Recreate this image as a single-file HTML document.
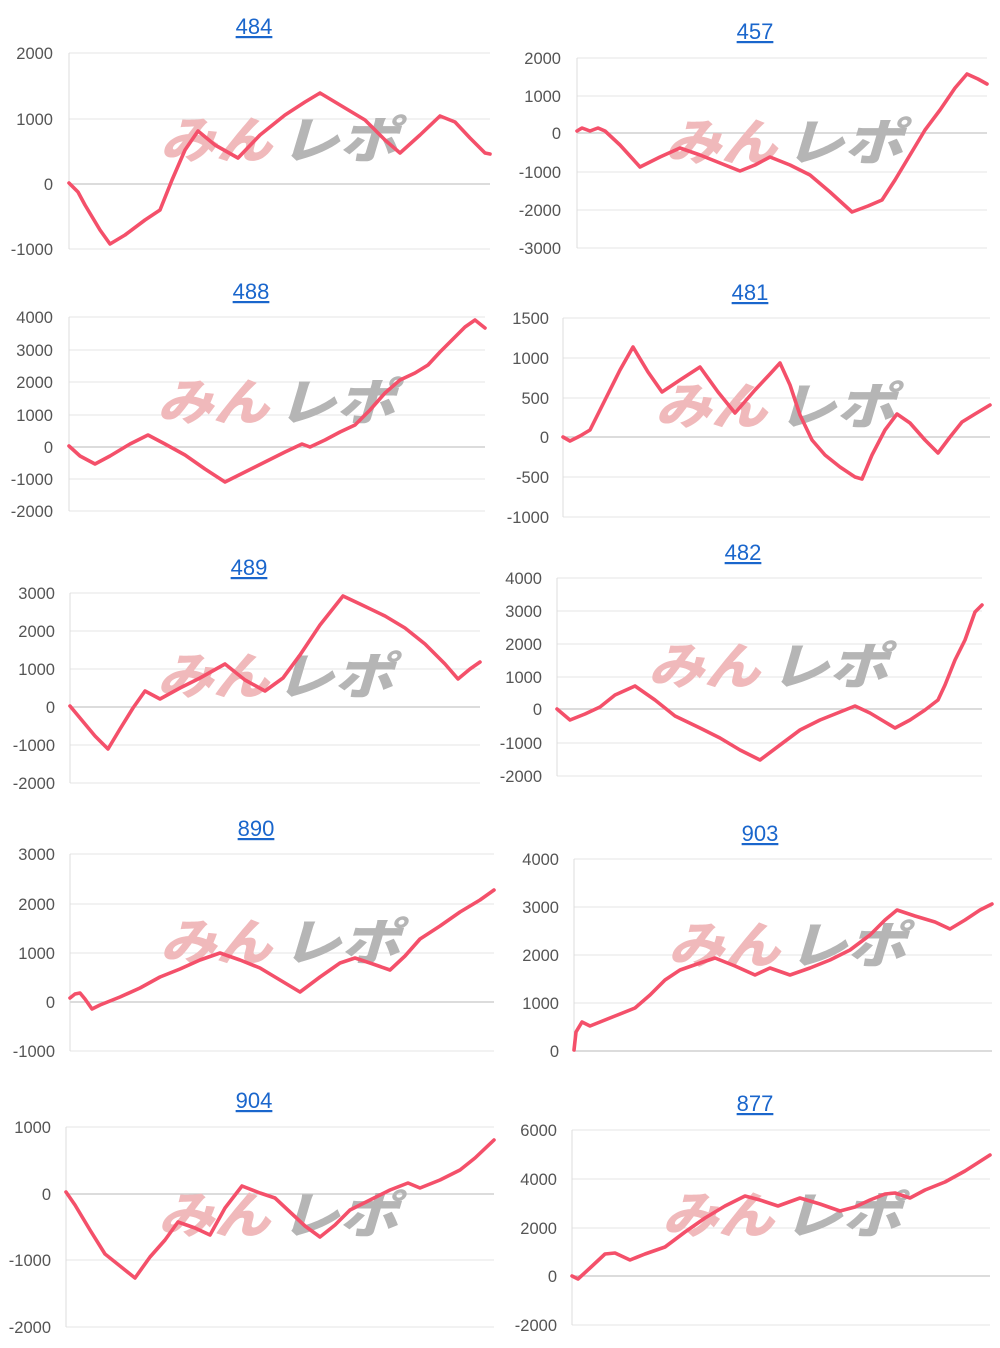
<!DOCTYPE html>
<html><head><meta charset="utf-8"><style>
html,body{margin:0;padding:0;background:#fff;width:1000px;height:1348px;overflow:hidden}
svg{display:block}
.t{font-family:"Liberation Sans",sans-serif;font-size:22px;fill:#1a66cc;text-decoration:underline;text-anchor:middle}
.l{font-family:"Liberation Sans",sans-serif;font-size:16.5px;fill:#555;text-anchor:end}
.g{stroke:#e4e4e4;stroke-width:1}
.z{stroke:#c8c8c8;stroke-width:1.3}
.a{stroke:#dcdcdc;stroke-width:1}
.p{fill:none;stroke:#f4506a;stroke-width:3.6;stroke-linejoin:round;stroke-linecap:round}
.w1{font-family:"Liberation Sans","Noto Sans CJK JP",sans-serif;font-weight:900;font-style:italic;font-size:50px;fill:#f0b9bb}
.w2{font-family:"Liberation Sans","Noto Sans CJK JP",sans-serif;font-weight:900;font-style:italic;font-size:50px;fill:#b5b5b5}
</style></head><body>
<svg width="1000" height="1348" viewBox="0 0 1000 1348" xmlns="http://www.w3.org/2000/svg">

<!-- 484 -->
<text class="t" x="254" y="34">484</text>
<line class="g" x1="69" x2="490" y1="53" y2="53"/><line class="g" x1="69" x2="490" y1="119" y2="119"/><line class="z" x1="69" x2="490" y1="184" y2="184"/><line class="g" x1="69" x2="490" y1="249" y2="249"/>
<line class="a" x1="69" x2="69" y1="53" y2="249"/>
<text class="l" x="53" y="59">2000</text><text class="l" x="53" y="125">1000</text><text class="l" x="53" y="190">0</text><text class="l" x="53" y="255">-1000</text>
<text class="w1" x="160" y="158" textLength="112" lengthAdjust="spacingAndGlyphs">みん</text><text class="w2" x="280" y="158" textLength="118" lengthAdjust="spacingAndGlyphs">レポ</text>
<polyline class="p" points="69,183 78,192 85,205 100,230 110,244 125,235 145,220 160,210 172,180 185,150 198,131 215,145 238,158 260,135 285,115 305,102 320,93 340,105 365,120 385,140 400,153 420,135 440,116 455,122 470,138 485,153 490,154"/>

<!-- 457 -->
<text class="t" x="755" y="39">457</text>
<line class="g" x1="577" x2="987" y1="58" y2="58"/><line class="g" x1="577" x2="987" y1="96" y2="96"/><line class="z" x1="577" x2="987" y1="133" y2="133"/><line class="g" x1="577" x2="987" y1="172" y2="172"/><line class="g" x1="577" x2="987" y1="210" y2="210"/><line class="g" x1="577" x2="987" y1="248" y2="248"/>
<line class="a" x1="577" x2="577" y1="58" y2="248"/>
<text class="l" x="561" y="64">2000</text><text class="l" x="561" y="102">1000</text><text class="l" x="561" y="139">0</text><text class="l" x="561" y="178">-1000</text><text class="l" x="561" y="216">-2000</text><text class="l" x="561" y="254">-3000</text>
<text class="w1" x="665" y="160" textLength="112" lengthAdjust="spacingAndGlyphs">みん</text><text class="w2" x="785" y="160" textLength="118" lengthAdjust="spacingAndGlyphs">レポ</text>
<polyline class="p" points="577,131 582,128 590,131 598,128 605,131 620,145 640,167 660,157 680,148 700,155 720,163 740,171 755,165 770,157 790,165 810,175 830,192 852,212 868,206 882,200 895,180 910,155 925,130 940,110 955,88 967,74 978,79 987,84"/>

<!-- 488 -->
<text class="t" x="251" y="299">488</text>
<line class="g" x1="69" x2="485" y1="317" y2="317"/><line class="g" x1="69" x2="485" y1="350" y2="350"/><line class="g" x1="69" x2="485" y1="382" y2="382"/><line class="g" x1="69" x2="485" y1="415" y2="415"/><line class="z" x1="69" x2="485" y1="447" y2="447"/><line class="g" x1="69" x2="485" y1="479" y2="479"/><line class="g" x1="69" x2="485" y1="511" y2="511"/>
<line class="a" x1="69" x2="69" y1="317" y2="511"/>
<text class="l" x="53" y="323">4000</text><text class="l" x="53" y="356">3000</text><text class="l" x="53" y="388">2000</text><text class="l" x="53" y="421">1000</text><text class="l" x="53" y="453">0</text><text class="l" x="53" y="485">-1000</text><text class="l" x="53" y="517">-2000</text>
<text class="w1" x="157" y="420" textLength="112" lengthAdjust="spacingAndGlyphs">みん</text><text class="w2" x="277" y="420" textLength="118" lengthAdjust="spacingAndGlyphs">レポ</text>
<polyline class="p" points="69,446 80,456 95,464 110,456 130,444 148,435 165,444 185,455 205,469 225,482 245,472 265,462 285,452 302,444 310,447 325,440 340,432 355,425 370,410 385,393 400,380 415,373 428,365 440,352 455,337 465,327 475,320 485,328"/>

<!-- 481 -->
<text class="t" x="750" y="300">481</text>
<line class="g" x1="563" x2="990" y1="318" y2="318"/><line class="g" x1="563" x2="990" y1="358" y2="358"/><line class="g" x1="563" x2="990" y1="398" y2="398"/><line class="z" x1="563" x2="990" y1="437" y2="437"/><line class="g" x1="563" x2="990" y1="477" y2="477"/><line class="g" x1="563" x2="990" y1="517" y2="517"/>
<line class="a" x1="563" x2="563" y1="318" y2="517"/>
<text class="l" x="549" y="324">1500</text><text class="l" x="549" y="364">1000</text><text class="l" x="549" y="404">500</text><text class="l" x="549" y="443">0</text><text class="l" x="549" y="483">-500</text><text class="l" x="549" y="523">-1000</text>
<text class="w1" x="655" y="424" textLength="112" lengthAdjust="spacingAndGlyphs">みん</text><text class="w2" x="777" y="424" textLength="118" lengthAdjust="spacingAndGlyphs">レポ</text>
<polyline class="p" points="563,437 570,441 580,436 590,430 605,400 620,370 633,347 648,372 662,392 680,380 700,367 718,392 735,413 755,390 770,374 780,363 790,385 800,415 812,440 825,455 840,467 855,477 862,479 872,455 885,430 897,414 910,423 925,440 938,453 950,437 962,422 975,414 990,405"/>

<!-- 489 -->
<text class="t" x="249" y="575">489</text>
<line class="g" x1="70" x2="480" y1="593" y2="593"/><line class="g" x1="70" x2="480" y1="631" y2="631"/><line class="g" x1="70" x2="480" y1="669" y2="669"/><line class="z" x1="70" x2="480" y1="707" y2="707"/><line class="g" x1="70" x2="480" y1="745" y2="745"/><line class="g" x1="70" x2="480" y1="783" y2="783"/>
<line class="a" x1="70" x2="70" y1="593" y2="783"/>
<text class="l" x="55" y="599">3000</text><text class="l" x="55" y="637">2000</text><text class="l" x="55" y="675">1000</text><text class="l" x="55" y="713">0</text><text class="l" x="55" y="751">-1000</text><text class="l" x="55" y="789">-2000</text>
<text class="w1" x="157" y="694" textLength="112" lengthAdjust="spacingAndGlyphs">みん</text><text class="w2" x="275" y="694" textLength="118" lengthAdjust="spacingAndGlyphs">レポ</text>
<polyline class="p" points="70,706 80,718 95,736 108,749 120,729 133,708 145,691 160,699 180,688 200,678 225,664 245,680 265,691 283,678 300,655 320,625 343,596 360,604 385,616 405,628 425,644 445,664 458,679 470,669 480,662"/>

<!-- 482 -->
<text class="t" x="743" y="560">482</text>
<line class="g" x1="557" x2="982" y1="578" y2="578"/><line class="g" x1="557" x2="982" y1="611" y2="611"/><line class="g" x1="557" x2="982" y1="644" y2="644"/><line class="g" x1="557" x2="982" y1="677" y2="677"/><line class="z" x1="557" x2="982" y1="709" y2="709"/><line class="g" x1="557" x2="982" y1="743" y2="743"/><line class="g" x1="557" x2="982" y1="776" y2="776"/>
<line class="a" x1="557" x2="557" y1="578" y2="776"/>
<text class="l" x="542" y="584">4000</text><text class="l" x="542" y="617">3000</text><text class="l" x="542" y="650">2000</text><text class="l" x="542" y="683">1000</text><text class="l" x="542" y="715">0</text><text class="l" x="542" y="749">-1000</text><text class="l" x="542" y="782">-2000</text>
<text class="w1" x="648" y="684" textLength="112" lengthAdjust="spacingAndGlyphs">みん</text><text class="w2" x="770" y="684" textLength="118" lengthAdjust="spacingAndGlyphs">レポ</text>
<polyline class="p" points="557,709 570,720 585,714 600,707 615,695 635,686 655,700 675,716 700,728 720,738 740,750 760,760 780,745 800,730 820,720 840,712 855,706 870,713 885,722 895,728 910,720 925,710 938,700 945,685 955,660 965,640 975,612 982,605"/>

<!-- 890 -->
<text class="t" x="256" y="836">890</text>
<line class="g" x1="70" x2="494" y1="854" y2="854"/><line class="g" x1="70" x2="494" y1="904" y2="904"/><line class="g" x1="70" x2="494" y1="953" y2="953"/><line class="z" x1="70" x2="494" y1="1002" y2="1002"/><line class="g" x1="70" x2="494" y1="1051" y2="1051"/>
<line class="a" x1="70" x2="70" y1="854" y2="1051"/>
<text class="l" x="55" y="860">3000</text><text class="l" x="55" y="910">2000</text><text class="l" x="55" y="959">1000</text><text class="l" x="55" y="1008">0</text><text class="l" x="55" y="1057">-1000</text>
<text class="w1" x="160" y="960" textLength="112" lengthAdjust="spacingAndGlyphs">みん</text><text class="w2" x="282" y="960" textLength="118" lengthAdjust="spacingAndGlyphs">レポ</text>
<polyline class="p" points="70,998 75,994 80,993 85,999 92,1009 100,1005 120,997 140,988 160,977 180,969 200,960 220,953 240,960 260,968 280,980 300,992 320,977 340,963 355,958 370,963 390,970 405,956 420,939 440,926 460,912 480,900 494,890"/>

<!-- 903 -->
<text class="t" x="760" y="841">903</text>
<line class="g" x1="574" x2="992" y1="859" y2="859"/><line class="g" x1="574" x2="992" y1="907" y2="907"/><line class="g" x1="574" x2="992" y1="955" y2="955"/><line class="g" x1="574" x2="992" y1="1003" y2="1003"/><line class="z" x1="574" x2="992" y1="1051" y2="1051"/>
<line class="a" x1="574" x2="574" y1="859" y2="1051"/>
<text class="l" x="559" y="865">4000</text><text class="l" x="559" y="913">3000</text><text class="l" x="559" y="961">2000</text><text class="l" x="559" y="1009">1000</text><text class="l" x="559" y="1057">0</text>
<text class="w1" x="668" y="963" textLength="112" lengthAdjust="spacingAndGlyphs">みん</text><text class="w2" x="788" y="963" textLength="118" lengthAdjust="spacingAndGlyphs">レポ</text>
<polyline class="p" points="574,1050 576,1032 582,1022 590,1026 600,1022 615,1016 635,1008 650,995 665,980 680,970 700,963 715,958 735,966 755,975 770,968 790,975 810,968 830,960 850,950 870,935 885,920 897,910 915,916 935,922 950,929 965,920 980,910 992,904"/>

<!-- 904 -->
<text class="t" x="254" y="1108">904</text>
<line class="g" x1="66" x2="494" y1="1127" y2="1127"/><line class="z" x1="66" x2="494" y1="1194" y2="1194"/><line class="g" x1="66" x2="494" y1="1260" y2="1260"/><line class="g" x1="66" x2="494" y1="1327" y2="1327"/>
<line class="a" x1="66" x2="66" y1="1127" y2="1327"/>
<text class="l" x="51" y="1133">1000</text><text class="l" x="51" y="1200">0</text><text class="l" x="51" y="1266">-1000</text><text class="l" x="51" y="1333">-2000</text>
<text class="w1" x="158" y="1233" textLength="112" lengthAdjust="spacingAndGlyphs">みん</text><text class="w2" x="280" y="1233" textLength="118" lengthAdjust="spacingAndGlyphs">レポ</text>
<polyline class="p" points="66,1192 75,1205 90,1230 105,1254 120,1266 135,1278 150,1257 165,1240 178,1222 195,1228 210,1235 225,1208 242,1186 260,1193 275,1198 290,1212 305,1226 320,1237 335,1225 350,1210 370,1200 390,1190 408,1183 420,1188 440,1180 460,1170 475,1158 494,1140"/>

<!-- 877 -->
<text class="t" x="755" y="1111">877</text>
<line class="g" x1="572" x2="990" y1="1130" y2="1130"/><line class="g" x1="572" x2="990" y1="1179" y2="1179"/><line class="g" x1="572" x2="990" y1="1228" y2="1228"/><line class="z" x1="572" x2="990" y1="1276" y2="1276"/><line class="g" x1="572" x2="990" y1="1325" y2="1325"/>
<line class="a" x1="572" x2="572" y1="1130" y2="1325"/>
<text class="l" x="557" y="1136">6000</text><text class="l" x="557" y="1185">4000</text><text class="l" x="557" y="1234">2000</text><text class="l" x="557" y="1282">0</text><text class="l" x="557" y="1331">-2000</text>
<text class="w1" x="662" y="1233" textLength="112" lengthAdjust="spacingAndGlyphs">みん</text><text class="w2" x="783" y="1233" textLength="118" lengthAdjust="spacingAndGlyphs">レポ</text>
<polyline class="p" points="572,1276 578,1279 590,1268 605,1254 615,1253 630,1260 645,1254 665,1247 685,1232 705,1218 725,1206 745,1196 760,1200 778,1206 800,1198 820,1204 840,1211 855,1207 870,1200 885,1194 895,1193 910,1198 925,1190 945,1182 965,1171 990,1155"/>
</svg>
</body></html>
